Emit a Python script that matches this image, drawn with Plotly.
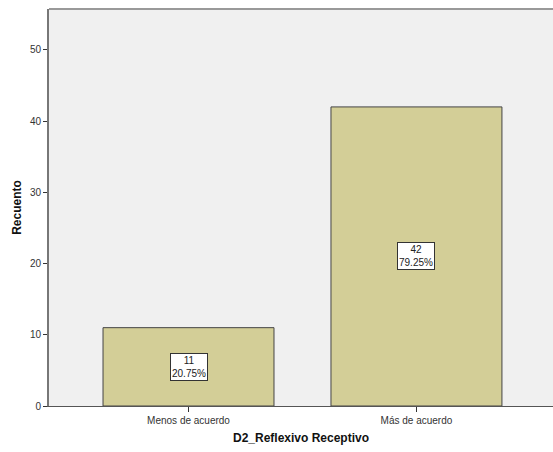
import plotly.graph_objects as go

categories = ["Menos de acuerdo", "Más de acuerdo"]
counts = [11, 42]
percents = ["20.75%", "79.25%"]
y_ticks = [0, 10, 20, 30, 40, 50]

fig = go.Figure()
fig.add_trace(go.Bar(
    x=categories, y=counts, width=0.75,
    marker=dict(color="#D3CE97", line=dict(color="#444444", width=1)),
    hoverinfo="skip",
))

for c, v, p in zip(categories, counts, percents):
    fig.add_annotation(
        x=c, y=v / 2, text=f"{v}<br>{p}", showarrow=False,
        font=dict(family="Liberation Sans, Arial", size=10, color="#222222"),
        bgcolor="white", bordercolor="#333333", borderwidth=1, borderpad=1,
    )

fig.update_layout(
    width=553, height=452,
    margin=dict(l=49, r=0, t=9, b=46),
    paper_bgcolor="white", plot_bgcolor="#F0F0F0",
    showlegend=False,
    font=dict(family="Liberation Sans, Arial", size=10, color="#333333"),
    bargap=0.25,
)
fig.update_xaxes(
    type="category", range=[-0.612, 1.599],
    showline=True, linecolor="#555555", linewidth=1,
    ticks="outside", ticklen=5, tickcolor="#333333",
    title=dict(text="<b>D2_Reflexivo Receptivo</b>", font=dict(size=12, color="#111111"), standoff=8),
    showgrid=False, mirror=False,
)
fig.update_yaxes(
    range=[0, 55.75], tickvals=y_ticks,
    showline=True, linecolor="#777777", linewidth=2,
    ticks="outside", ticklen=4, tickcolor="#333333",
    title=dict(text="<b>Recuento</b>", font=dict(size=12, color="#111111"), standoff=6),
    showgrid=False, zeroline=False,
)
fig.add_shape(type="line", xref="paper", yref="paper", x0=0, x1=1, y0=1, y1=1,
              line=dict(color="#999999", width=2))

fig.write_html("out.html", config={"displayModeBar": False},
               post_script="document.body.style.margin='0';document.body.style.overflow='hidden';")
